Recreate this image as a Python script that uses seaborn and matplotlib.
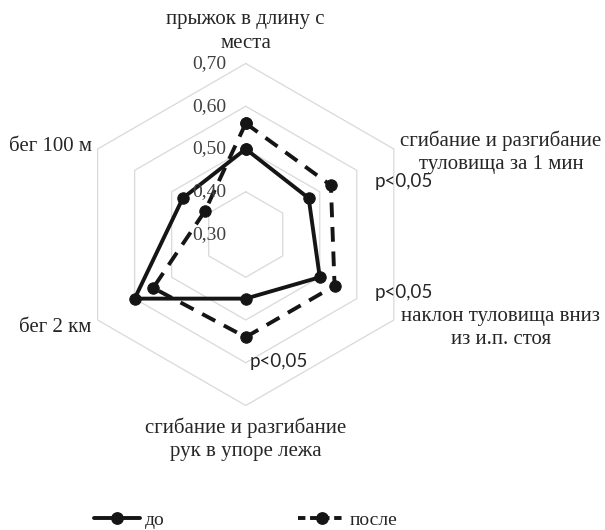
import numpy as np
import pandas as pd
import matplotlib
matplotlib.use("Agg")
import matplotlib.pyplot as plt
from matplotlib.lines import Line2D
import seaborn as sns

# data
categories = ["прыжок в длину с\nместа",
              "сгибание и разгибание\nтуловища за 1 мин",
              "наклон туловища вниз\nиз и.п. стоя",
              "сгибание и разгибание\nрук в упоре лежа",
              "бег 2 км",
              "бег 100 м"]
before = [0.50, 0.47, 0.50, 0.45, 0.60, 0.47]
after = [0.56, 0.53, 0.54, 0.54, 0.55, 0.41]
r_levels = [0.30, 0.40, 0.50, 0.60, 0.70]
r_labels = ["0,30", "0,40", "0,50", "0,60", "0,70"]
p_marks = ["", "p<0,05", "p<0,05", "p<0,05", "", ""]

sns.set_style("white")
plt.rcParams['font.family'] = ['Liberation Serif', 'DejaVu Serif']

n = len(categories)
theta = np.arange(n) * 2 * np.pi / n
theta_c = np.append(theta, theta[0])

df = pd.DataFrame({
    "theta": np.concatenate([theta_c, theta_c]),
    "value": np.concatenate([before + before[:1], after + after[:1]]),
    "series": ["до"] * (n + 1) + ["после"] * (n + 1),
})

fig = plt.figure(figsize=(6.05, 5.30), dpi=100)
ax = fig.add_axes([0.1235, 0.2349, 0.5653, 0.6453], projection="polar")
ax.set_theta_zero_location("N")
ax.set_theta_direction(-1)
ax.set_ylim(r_levels[0], r_levels[-1])
ax.grid(False)
ax.set_xticks([])
ax.set_yticks([])
ax.spines["polar"].set_visible(False)
ax.patch.set_alpha(0)

# hexagonal grid
for lvl in r_levels[1:]:
    ax.plot(theta_c, [lvl] * (n + 1), color="#d9d9d9", lw=0.9, zorder=1, clip_on=False)

line_col = "#151515"
lw = 2.8
ms = 8.2
sns.lineplot(data=df[df.series == "до"], x="theta", y="value", sort=False, estimator=None,
             ax=ax, color=line_col, lw=lw, marker="o", markersize=ms,
             markeredgecolor=line_col, zorder=3, legend=False)
sns.lineplot(data=df[df.series == "после"], x="theta", y="value", sort=False, estimator=None,
             ax=ax, color=line_col, lw=lw, marker="o", markersize=ms,
             markeredgecolor=line_col, zorder=3, legend=False)
ax.lines[-1].set_linestyle((0, (3.8, 2.5)))
for ln in ax.lines:
    ln.set_clip_on(False)
ax.set_xlabel("")
ax.set_ylabel("")

# radial tick labels, left of the top axis
for lvl, lab in zip(r_levels, r_labels):
    ax.annotate(lab, xy=(0, lvl), xytext=(-19, 0), textcoords="offset pixels",
                ha="right", va="center", fontsize=14, color="#404040")

# category labels (pixel offsets from each outer vertex)
offsets = [(0, 32, "center"), (107, -3, "center"), (107, -8, "center"),
           (0, -34, "center"), (-6, -7, "right"), (-6, 2, "right")]
for th, lab, (dx, dy, ha) in zip(theta, categories, offsets):
    ax.annotate(lab, xy=(th, r_levels[-1]), xytext=(dx, dy), textcoords="offset pixels",
                ha=ha, va="center", fontsize=15, color="#262626",
                linespacing=1.3, annotation_clip=False)

p_offsets = [None, (10, -33), (10, 28), (33, 44), None, None]
for th, pm, off in zip(theta, p_marks, p_offsets):
    if pm:
        ax.annotate(pm, xy=(th, r_levels[-1]), xytext=off, textcoords="offset pixels",
                    ha="center", va="center", fontsize=13.5, family="Lato",
                    color="#262626", annotation_clip=False)

handles = [Line2D([], [], color=line_col, lw=lw, marker="o", markersize=ms),
           Line2D([], [], color=line_col, lw=lw, marker="o", markersize=ms,
                  linestyle=(0, (1.9, 1.2)))]
fig.legend(handles, ["до", "после"], loc="center", bbox_to_anchor=(0.406, 0.018),
           ncol=2, frameon=False, fontsize=14, handlelength=2.4, handletextpad=0.25,
           columnspacing=6.85)

fig.savefig("out.png", dpi=100)
